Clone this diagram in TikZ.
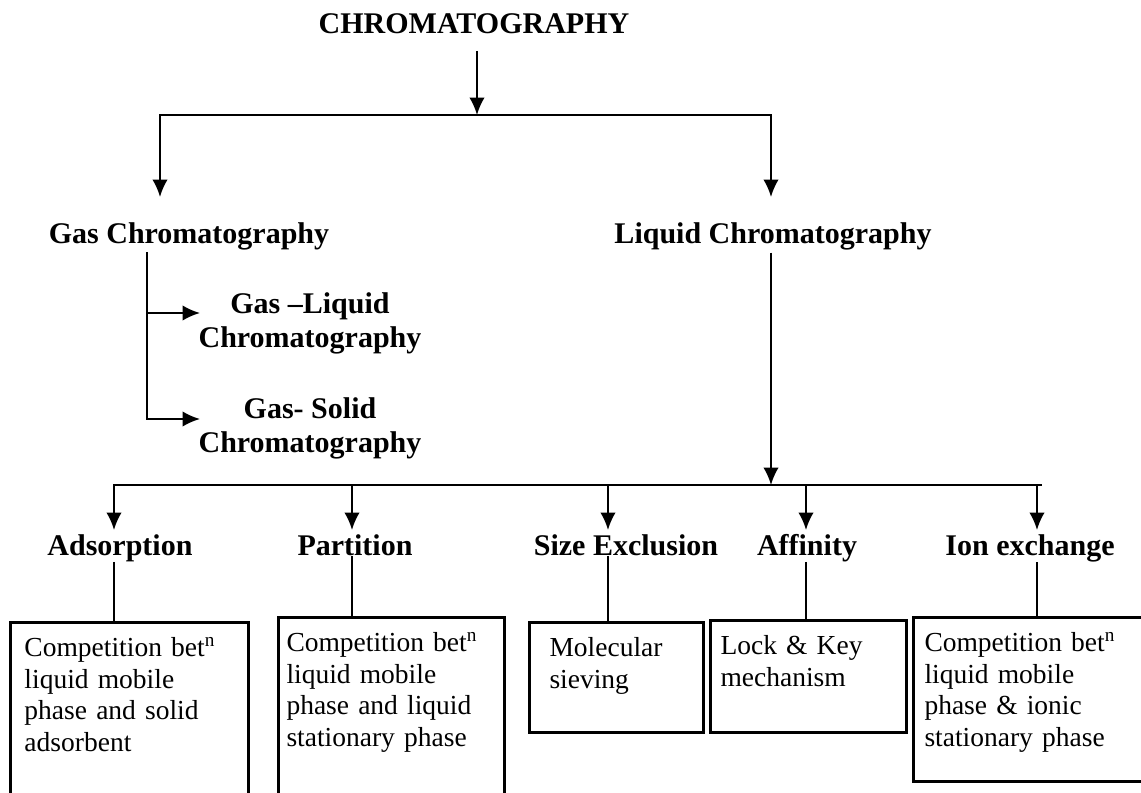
\documentclass[tikz,border=0pt]{standalone}
\usepackage{fontspec}
\setmainfont{Liberation Serif}
\usetikzlibrary{arrows.meta}

\begin{document}
\begin{tikzpicture}[x=0.4pt,y=-0.4pt]

\tikzstyle{head}=[font=\fontsize{12}{13.6}\selectfont\bfseries,
    inner xsep=0pt, inner ysep=1pt, align=center]
\tikzstyle{box}=[draw, line width=1.2pt, anchor=north west, align=left,
    font=\fontsize{11}{12.65}\selectfont,
    inner ysep=5pt, text height=8.6pt]
\tikzstyle{link}=[->,>={Latex[length=7pt,width=6.2pt]}, line width=0.8pt]
\tikzstyle{tie}=[line width=0.7pt]

\useasboundingbox (0,0) rectangle (1141,793);

  \node[head, anchor=base, inner ysep=6.8pt] (main) at (474,33) {CHROMATOGRAPHY};

  \coordinate (split) at (477,115);
  \coordinate (gasIn) at (160,197);
  \coordinate (liqIn) at (771,197);

  \draw[link] (main.south -| split) -- (split);
  \draw[link] (split) -| (gasIn);
  \draw[link] (split) -| (liqIn);

  \node[head, anchor=base] (gas) at (189,243) {Gas Chromatography};
  \node[head, anchor=base] (liquid) at (773,243) {Liquid Chromatography};

  % gas branch
  \node[head] (gasLiquid) at (310,323) {Gas --Liquid\\Chromatography};
  \node[head] (gasSolid) at (310,428) {Gas- Solid\\Chromatography};

  \coordinate (gasFork) at (147,252);
  \coordinate (gasLiquidIn) at (200,313);
  \coordinate (gasSolidIn) at (200,419);

  \draw[link] (gasFork) |- (gasSolidIn);
  \draw[link] (gasFork |- gasLiquidIn) -- (gasLiquidIn);

  % liquid branch
  \coordinate (bar) at (771,485);
  \coordinate (barLeft) at (113,485);
  \coordinate (barRight) at (1042,485);

  \draw[link] (liquid.south -| bar) -- (bar);
  \draw[line width=0.8pt] (barLeft) -- (barRight);

  \coordinate (adsIn) at (114,530);
  \coordinate (parIn) at (352,530);
  \coordinate (sizIn) at (608,530);
  \coordinate (affIn) at (806,530);
  \coordinate (ionIn) at (1037,530);

  \draw[link] (barLeft -| adsIn) -- (adsIn);
  \draw[link] (barLeft -| parIn) -- (parIn);
  \draw[link] (barLeft -| sizIn) -- (sizIn);
  \draw[link] (barLeft -| affIn) -- (affIn);
  \draw[link] (barLeft -| ionIn) -- (ionIn);

  \node[head, anchor=base, inner ysep=0pt] (adsorption) at (120,555) {Adsorption};
  \node[head, anchor=base, inner ysep=0pt] (partition) at (355,555) {Partition};
  \node[head, anchor=base, inner ysep=0pt] (sizeExclusion) at (626,555) {Size Exclusion};
  \node[head, anchor=base, inner ysep=0pt] (affinity) at (807,555) {Affinity};
  \node[head, anchor=base, inner ysep=0pt] (ionExchange) at (1030,555) {Ion exchange};

  % mechanisms
  \node[box, inner xsep=5.6pt, text width=84pt, text depth=61pt] (adsBox) at (9,621)
    {Competition bet\textsuperscript{n}\\liquid mobile\\phase and solid\\adsorbent};
  \node[box, inner xsep=3.2pt, text width=84pt, text depth=63pt] (parBox) at (277,616)
    {Competition bet\textsuperscript{n}\\liquid mobile\\phase and liquid\\stationary phase};
  \node[box, inner xsep=8pt, text width=53.6pt, text depth=25.4pt] (sizBox) at (528,621)
    {Molecular\\sieving};
  \node[box, inner xsep=4pt, text width=70.4pt, text depth=26.2pt] (affBox) at (709,619)
    {Lock \& Key\\mechanism};
  \node[box, inner xsep=4.4pt, text width=87.2pt, text depth=47pt] (ionBox) at (912,616)
    {Competition bet\textsuperscript{n}\\liquid mobile\\phase \& ionic\\stationary phase};

  \draw[tie] (adsorption.south -| adsIn) -- (adsBox.north -| adsIn);
  \draw[tie] (partition.south -| parIn) -- (parBox.north -| parIn);
  \draw[tie] (sizeExclusion.south -| sizIn) -- (sizBox.north -| sizIn);
  \draw[tie] (affinity.south -| affIn) -- (affBox.north -| affIn);
  \draw[tie] (ionExchange.south -| ionIn) -- (ionBox.north -| ionIn);

\end{tikzpicture}
\end{document}
